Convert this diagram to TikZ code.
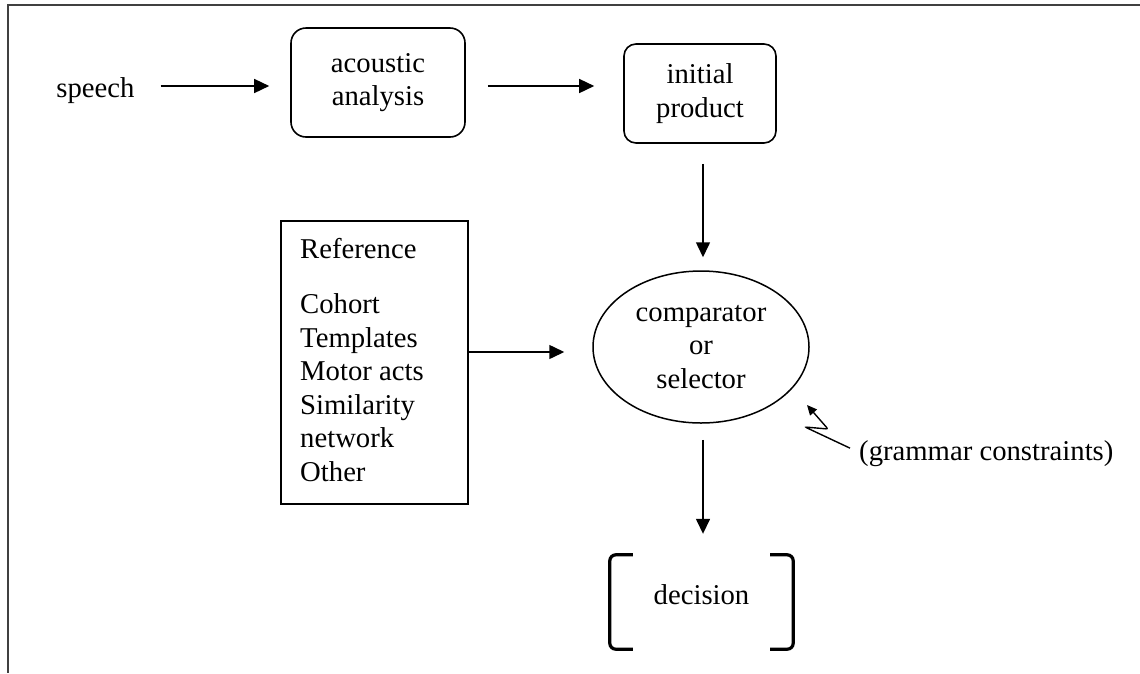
\documentclass[tikz,border=0pt]{standalone}
\usepackage{fontspec}
\setmainfont{Liberation Serif}
\usetikzlibrary{arrows.meta,shapes.geometric,calc}
\begin{document}
\begin{tikzpicture}[x=1pt,y=-1pt,
  txt/.style={font=\fontsize{28.7pt}{33.5pt}\selectfont, inner sep=0pt, align=center},
  rbox/.style={txt, draw, rounded corners=15pt, line width=1.6pt},
  arr/.style={line width=1.5pt, -{Triangle[length=15pt,width=14pt]}},
  smallarr/.style={line width=1.4pt, rounded corners=2pt, -{Triangle[length=10pt,width=9pt]}},
  bracketline/.style={line width=3.2pt, rounded corners=6pt},
  framebar/.style={line width=2pt, black!75}]
\useasboundingbox (0,0) rectangle (1140,673);
% frame
\draw[framebar] (1140,5) -- (8,5) -- (8,673);
% nodes
\node[txt, anchor=base] (speech) at (95.5,97) {speech};
\node[rbox, minimum width=174pt, minimum height=109pt] (acoustic) at (378,82.5) {acoustic\\analysis};
\node[rbox, rounded corners=12pt, minimum width=152pt, minimum height=99pt] (initial) at (700,93.5) {initial\\product};
\node[txt, draw, ellipse, line width=1.5pt, minimum width=216pt, minimum height=152pt] (comp) at (701,347) {comparator\\or\\selector};
\node[draw, line width=2.6pt, minimum width=187pt, minimum height=283pt] (ref) at (374.5,362.5) {};
\node[txt, align=left, anchor=north west] (reflist) at (300,238.4) {Reference\\[21.5pt]Cohort\\Templates\\Motor acts\\Similarity\\network\\Other};
\node[txt, minimum width=183pt, minimum height=94pt, text height=19.6pt, text depth=15.6pt] (dec) at (701.5,602) {decision};
\node[txt, anchor=base west] (gram) at (859,460) {(grammar constraints)};
% decision brackets
\draw[bracketline] ($(dec.north west)+(23,0)$) -- (dec.north west) -- (dec.south west) -- ($(dec.south west)+(23,0)$);
\draw[bracketline] ($(dec.north east)+(-23,0)$) -- (dec.north east) -- (dec.south east) -- ($(dec.south east)+(-23,0)$);
% connectors
\draw[arr] ($(speech.east |- acoustic.west)+(26,3.5)$) -- ($(acoustic.west)+(-21,3.5)$);
\draw[arr] ($(acoustic.east)+(22,3.5)$) -- ($(initial.west |- acoustic.west)+(-29,3.5)$);
\draw[arr] ($(initial.south)+(3,20)$) -- ($(comp.north)+(2,-13)$);
\draw[arr] ($(ref.east)+(0,-10.5)$) -- ($(comp.west |- ref.east)+(-28,-10.5)$);
\draw[arr] ($(comp.south)+(2,16)$) -- ($(dec.north)+(1.5,-21)$);
% grammar constraints lightning arrow
\coordinate (gz1) at (805,427);
\coordinate (gz2) at (828,429);
\coordinate (gtip) at (807,405);
\draw[smallarr] ($(gram.west)+(-9,-5)$) -- (gz1) -- (gz2) -- (gtip);
\end{tikzpicture}
\end{document}
